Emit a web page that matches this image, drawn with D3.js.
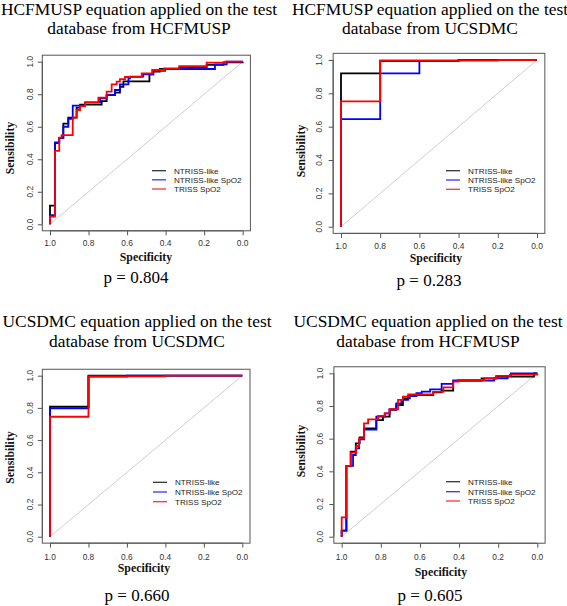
<!DOCTYPE html>
<html>
<head>
<meta charset="utf-8">
<script src="https://cdn.jsdelivr.net/npm/d3@7"></script>
<style>
  html, body { margin: 0; padding: 0; background: #fff; }
  svg { display: block; }
</style>
</head>
<body>
<script>
// ---------------- DATA ----------------
const seriesNames = ["NTRISS-like", "NTRISS-like SpO2", "TRISS SpO2"];
const titlesLine1 = [
  "HCFMUSP equation applied on the test",
  "HCFMUSP equation applied on the test",
  "UCSDMC equation applied on the test",
  "UCSDMC equation applied on the test"
];
const titlesLine2 = [
  "database from HCFMUSP",
  "database from UCSDMC",
  "database from UCSDMC",
  "database from HCFMUSP"
];
const pValues = ["0.804", "0.283", "0.660", "0.605"];
const tickValues = [0, 0.2, 0.4, 0.6, 0.8, 1.0];
const tickLabels = ["0.0", "0.2", "0.4", "0.6", "0.8", "1.0"];
const xAxisTitle = "Specificity";
const yAxisTitle = "Sensibility";

// ROC step points: [specificity, sensitivity reached at that specificity]
const p1NtrissLike = [[1,0],[1,0.115],[0.974,0.50],[0.952,0.53],[0.931,0.619],[0.905,0.656],[0.862,0.717],[0.844,0.736],[0.732,0.758],[0.706,0.795],[0.663,0.81],[0.637,0.846],[0.619,0.879],[0.484,0.922],[0.464,0.939],[0.43,0.955],[0.329,0.965],[0.187,0.98],[0.1,0.996],[0,1]];
const p1NtrissSpO2 = [[1,0],[1,0.057],[0.974,0.504],[0.952,0.53],[0.931,0.6],[0.905,0.648],[0.882,0.73],[0.818,0.75],[0.74,0.775],[0.706,0.795],[0.663,0.826],[0.637,0.861],[0.593,0.898],[0.585,0.908],[0.516,0.922],[0.464,0.943],[0.403,0.955],[0.144,0.984],[0.083,1],[0,1]];
const p1TrissSpO2 = [[1,0],[1,0.047],[0.974,0.451],[0.952,0.533],[0.94,0.549],[0.882,0.656],[0.862,0.703],[0.844,0.727],[0.818,0.75],[0.749,0.779],[0.706,0.816],[0.68,0.861],[0.654,0.877],[0.637,0.893],[0.611,0.906],[0.524,0.928],[0.47,0.949],[0.407,0.959],[0.329,0.973],[0.187,0.994],[0.09,1],[0,1]];

const p2NtrissLike = [[1,0],[1,0.92],[0.8,0.994],[0.4,1],[0,1]];
const p2NtrissSpO2 = [[1,0],[1,0.645],[0.8,0.92],[0.6,0.994],[0.4,1],[0,1]];
const p2TrissSpO2 = [[1,0],[1,0.752],[0.8,0.997],[0.2,1],[0,1]];

const p3NtrissLike = [[1,0],[1,0.807],[0.8,1],[0,1]];
const p3NtrissSpO2 = [[1,0],[1,0.797],[0.8,0.994],[0.6,1],[0,1]];
const p3TrissSpO2 = [[1,0],[1,0.745],[0.8,0.996],[0.4,1],[0,1]];

const p4NtrissLike = [[1,0],[1,0.037],[0.976,0.433],[0.954,0.52],[0.928,0.571],[0.908,0.608],[0.886,0.663],[0.823,0.714],[0.789,0.735],[0.755,0.776],[0.721,0.806],[0.687,0.847],[0.652,0.867],[0.532,0.884],[0.49,0.894],[0.43,0.955],[0.285,0.969],[0.21,0.98],[0.017,1],[0,1]];
const p4NtrissSpO2 = [[1,0],[1,0.037],[0.976,0.433],[0.942,0.5],[0.928,0.541],[0.911,0.596],[0.886,0.655],[0.823,0.735],[0.78,0.755],[0.755,0.78],[0.721,0.816],[0.695,0.837],[0.661,0.861],[0.618,0.878],[0.591,0.888],[0.548,0.902],[0.489,0.935],[0.43,0.955],[0.22,0.969],[0.152,0.984],[0.135,1],[0,1]];
const p4TrissSpO2 = [[1,0],[1,0.118],[0.976,0.433],[0.954,0.514],[0.926,0.555],[0.911,0.602],[0.886,0.694],[0.865,0.718],[0.814,0.739],[0.78,0.755],[0.755,0.78],[0.712,0.837],[0.687,0.857],[0.66,0.871],[0.532,0.886],[0.48,0.914],[0.43,0.949],[0.404,0.959],[0.27,0.969],[0.21,0.984],[0.14,0.992],[0,1]];

const panelSeries = [
  [p1NtrissLike, p1NtrissSpO2, p1TrissSpO2],
  [p2NtrissLike, p2NtrissSpO2, p2TrissSpO2],
  [p3NtrissLike, p3NtrissSpO2, p3TrissSpO2],
  [p4NtrissLike, p4NtrissSpO2, p4TrissSpO2]
];

// ---------------- STYLE / LAYOUT ----------------
const seriesColors = ["#000000", "#0000ff", "#ff0000"];
const layout = [
  { xr: [50, 242.7], yr: [224.3, 61.7], tcx: 139, t1: 14.5, t2: 33.5, xtY: 245.8, specX: 146, specY: 260.5, pX: 136, pY: 282.7, sensX: 10, sensY: 148, ytX: 30.3, legX: 152, legY: [170.7, 179.8, 189] },
  { xr: [341, 537], yr: [226.7, 60], tcx: 430, t1: 14.5, t2: 33.5, xtY: 248.8, specX: 436, specY: 262, pX: 429, pY: 286, sensX: 300.5, sensY: 151, ytX: 319.3, legX: 446, legY: [170.7, 180, 189.3] },
  { xr: [50, 242.3], yr: [536.7, 375.7], tcx: 137, t1: 327.3, t2: 346.7, xtY: 559.8, specX: 144, specY: 571.7, pX: 137, pY: 600.5, sensX: 10, sensY: 457.5, ytX: 30.3, legX: 153, legY: [482.3, 492, 501.7] },
  { xr: [341.7, 537.3], yr: [536.7, 373.3], tcx: 428, t1: 326.7, t2: 346.7, xtY: 559.8, specX: 441, specY: 575.7, pX: 430, pY: 600.5, sensX: 300.5, sensY: 451, ytX: 320.3, legX: 446, legY: [481.7, 491.7, 501] }
];

const W = 567, H = 606;
const serif = "'Liberation Serif','Times New Roman',Times,serif";
const sans = "'Liberation Sans',Arial,Helvetica,sans-serif";

const svg = d3.select("body").append("svg")
  .attr("width", W).attr("height", H)
  .attr("viewBox", `0 0 ${W} ${H}`);

layout.forEach((L, i) => {
  const g = svg.append("g");
  const x = d3.scaleLinear().domain([1, 0]).range(L.xr);
  const y = d3.scaleLinear().domain([0, 1]).range(L.yr);

  const bx0 = x(1.04), bx1 = x(-0.04), by0 = y(1.04), by1 = y(-0.04);

  // titles
  g.append("text").attr("x", L.tcx).attr("y", L.t1).attr("text-anchor", "middle")
    .attr("font-family", serif).attr("font-size", 17.4).attr("fill", "#000").text(titlesLine1[i]);
  g.append("text").attr("x", L.tcx).attr("y", L.t2).attr("text-anchor", "middle")
    .attr("font-family", serif).attr("font-size", 17.4).attr("fill", "#000").text(titlesLine2[i]);

  // diagonal reference
  g.append("line")
    .attr("x1", x(1)).attr("y1", y(0)).attr("x2", x(0)).attr("y2", y(1))
    .attr("stroke", "#c8c8c8").attr("stroke-width", 0.9);

  // curves
  const line = d3.line().x(d => x(d[0])).y(d => y(d[1])).curve(d3.curveStepAfter);
  panelSeries[i].forEach((s, k) => {
    g.append("path").datum(s).attr("d", line)
      .attr("fill", "none").attr("stroke", seriesColors[k])
      .attr("stroke-width", 1.8).attr("stroke-linejoin", "miter");
  });

  // box
  g.append("rect").attr("x", bx0).attr("y", by0)
    .attr("width", bx1 - bx0).attr("height", by1 - by0)
    .attr("fill", "none").attr("stroke", "#555").attr("stroke-width", 1);

  // x axis
  const xAxis = d3.axisBottom(x).tickValues(tickValues).tickSize(4.5).tickFormat("");
  const xa = g.append("g").attr("transform", `translate(0,${by1})`).call(xAxis);
  xa.select(".domain").attr("d", `M${x(1)},0H${x(0)}`).attr("stroke", "#555");
  xa.selectAll(".tick line").attr("stroke", "#555");
  tickValues.forEach((v, j) => {
    g.append("text").attr("x", x(v)).attr("y", L.xtY).attr("text-anchor", "middle")
      .attr("font-family", sans).attr("font-size", 8.4).attr("fill", "#333").text(tickLabels[j]);
  });

  // y axis
  const yAxis = d3.axisLeft(y).tickValues(tickValues).tickSize(4.5).tickFormat("");
  const ya = g.append("g").attr("transform", `translate(${bx0},0)`).call(yAxis);
  ya.select(".domain").attr("d", `M0,${y(0)}V${y(1)}`).attr("stroke", "#555");
  ya.selectAll(".tick line").attr("stroke", "#555");
  tickValues.forEach((v, j) => {
    g.append("text")
      .attr("transform", `translate(${L.ytX + 3},${y(v)}) rotate(-90)`)
      .attr("text-anchor", "middle")
      .attr("font-family", sans).attr("font-size", 8.4).attr("fill", "#333").text(tickLabels[j]);
  });

  // axis titles
  g.append("text").attr("x", L.specX).attr("y", L.specY).attr("text-anchor", "middle")
    .attr("font-family", serif).attr("font-size", 11.8).attr("font-weight", "bold").attr("fill", "#111").text(xAxisTitle);
  g.append("text")
    .attr("transform", `translate(${L.sensX + 4},${L.sensY}) rotate(-90)`)
    .attr("text-anchor", "middle")
    .attr("font-family", serif).attr("font-size", 11.8).attr("font-weight", "bold").attr("fill", "#111").text(yAxisTitle);

  // legend
  seriesNames.forEach((name, k) => {
    const ly = L.legY[k];
    g.append("line").attr("x1", L.legX).attr("x2", L.legX + 14).attr("y1", ly).attr("y2", ly)
      .attr("stroke", seriesColors[k]).attr("stroke-width", 1.3).attr("stroke-opacity", 0.8);
    g.append("text").attr("x", L.legX + 22).attr("y", ly + 3)
      .attr("font-family", sans).attr("font-size", 8.1).attr("fill", "#222").text(name);
  });

  // p value
  g.append("text").attr("x", L.pX).attr("y", L.pY).attr("text-anchor", "middle")
    .attr("font-family", serif).attr("font-size", 17).attr("fill", "#000").text("p = " + pValues[i]);
});
</script>
</body>
</html>
